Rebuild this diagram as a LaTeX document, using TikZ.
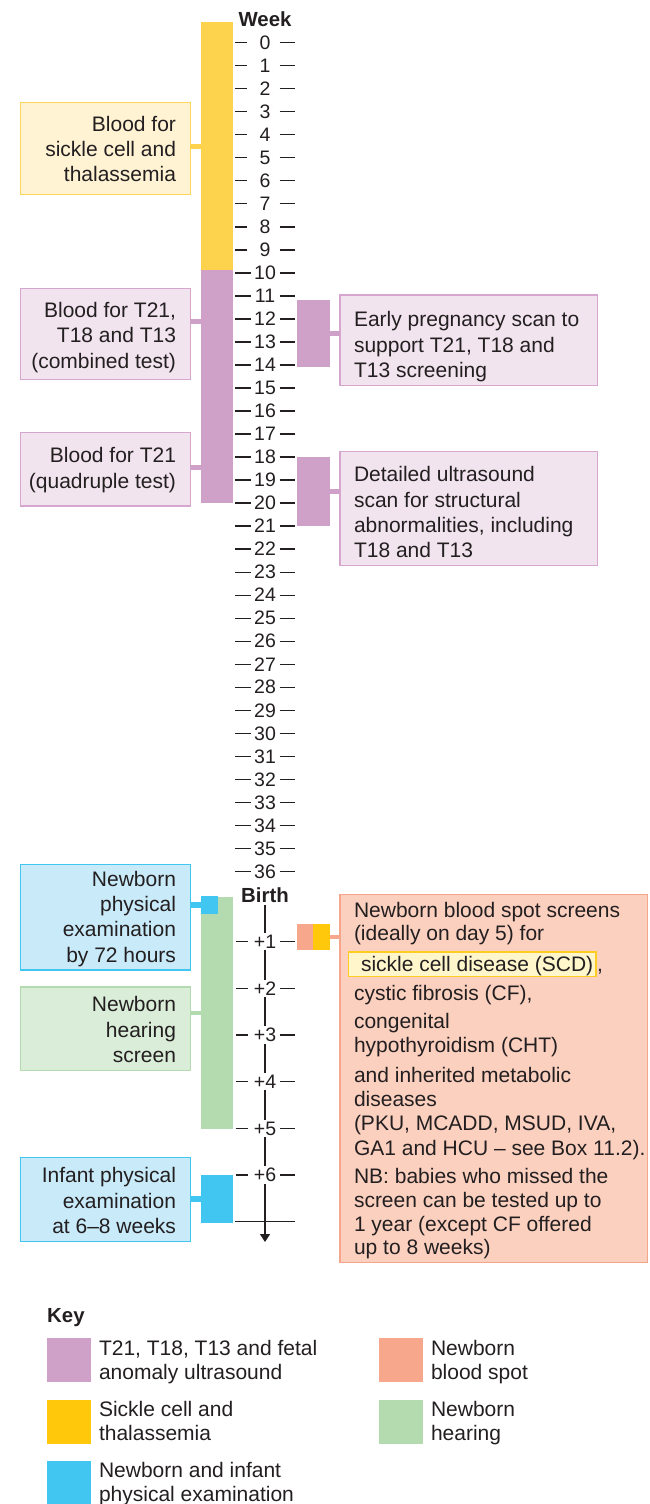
\documentclass[tikz,border=0pt]{standalone}
\usepackage{fontspec}
\setmainfont{Liberation Sans}
\usetikzlibrary{arrows.meta}
\definecolor{ink}{HTML}{231F20}
\definecolor{purplebar}{HTML}{CFA0C8}
\definecolor{pfill}{HTML}{F1E4EE}
\definecolor{pdraw}{HTML}{D6A6CE}
\definecolor{yellowbar}{HTML}{FDD24D}
\definecolor{yfill}{HTML}{FFF3D4}
\definecolor{ydraw}{HTML}{FDD65A}
\definecolor{ykey}{HTML}{FFC80A}
\definecolor{bblue}{HTML}{41C6F2}
\definecolor{bfill}{HTML}{C8EAF9}
\definecolor{greenbar}{HTML}{B4DAB0}
\definecolor{gfill}{HTML}{DAEDD8}
\definecolor{orangebar}{HTML}{F7A88C}
\definecolor{ofill}{HTML}{FBD0BF}
\definecolor{odraw}{HTML}{F5A68A}
\definecolor{scdfill}{HTML}{FFF6CC}
\definecolor{scddraw}{HTML}{FFCC22}
\begin{document}
\begin{tikzpicture}[x=1pt,y=-1pt,
  blk/.style={inner sep=0pt, outer sep=0pt, anchor=north west, draw=none},
  infobox/.style={inner sep=0pt, outer sep=0pt, anchor=north west, line width=1.4pt},
  txt/.style={inner sep=0pt, outer sep=0pt, text=ink, font=\fontsize{21}{25.3}\selectfont},
  keytxt/.style={inner sep=0pt, outer sep=0pt, text=ink, align=left, anchor=west, font=\fontsize{21}{24}\selectfont},
  conn/.style={line width=5pt},
  tickln/.style={line width=1.3pt, ink},
  num/.style={inner sep=1pt, text=ink, font=\fontsize{19.5}{20}\selectfont},
  hdr/.style={inner sep=1pt, text=ink, font=\fontsize{20.4}{22}\selectfont\bfseries}
]
\useasboundingbox (0,0) rectangle (650,1504);

% ---------- week scale ----------
\node[hdr] (week) at (265,19) {Week};
\foreach \k in {0,...,36}{
  \pgfmathsetmacro{\yy}{42.7+23.02*\k}
  \node[num] (w\k) at (265,\yy) {\k};
  \ifnum\k<10 \def\lx{247}\else\def\lx{251}\fi
  \draw[tickln] (235,\yy) -- (\lx,\yy);
  \draw[tickln] (279.5,\yy) -- (294.5,\yy);
}

% ---------- bars (pregnancy) ----------
\node[blk, fill=yellowbar, minimum width=32.3, minimum height=247.7] (ybarn) at (201,22.3) {};
\node[blk, fill=purplebar, minimum width=32.3, minimum height=233.3] (pbarn) at (201,270) {};
\node[blk, fill=purplebar, minimum width=33, minimum height=66.7] (pblk1) at (297,300) {};
\node[blk, fill=purplebar, minimum width=33, minimum height=69.3] (pblk2) at (297,456.7) {};

% ---------- boxes (pregnancy) ----------
\node[infobox, fill=yfill, draw=ydraw, minimum width=169.6, minimum height=92] (yb) at (20.7,102.3) {};
\node[txt, align=right, anchor=east] (ybt) at (176,148.9) {Blood for\\sickle cell and\\thalassemia};

\node[infobox, fill=pfill, draw=pdraw, minimum width=169.6, minimum height=91] (pb1) at (20.7,288.3) {};
\node[txt, align=right, anchor=east] (pb1t) at (176,337.4) {Blood for T21,\\T18 and T13\\(combined test)};

\node[infobox, fill=pfill, draw=pdraw, minimum width=169.6, minimum height=73.3] (pb2) at (20.7,432.7) {};
\node[txt, align=right, anchor=east] (pb2t) at (176,470.1) {Blood for T21\\(quadruple test)};

\node[infobox, fill=pfill, draw=pdraw, minimum width=257.3, minimum height=90.7] (pr1) at (340,295) {};
\node[txt, align=left, anchor=west] (pr1t) at (354,346.8) {Early pregnancy scan to\\support T21, T18 and\\T13 screening};

\node[infobox, fill=pfill, draw=pdraw, minimum width=257.3, minimum height=114] (pr2) at (340,451.7) {};
\node[txt, align=left, anchor=west] (pr2t) at (354,512.2) {Detailed ultrasound\\scan for structural\\abnormalities, including\\T18 and T13};

% connectors (pregnancy)
\coordinate (cy1) at (0,146);
\coordinate (cp1) at (0,321.7);
\coordinate (cp2) at (0,467.3);
\draw[conn, draw=yellowbar] (yb.east |- cy1) -- (ybarn.west |- cy1);
\draw[conn, draw=purplebar] (pb1.east |- cp1) -- (pbarn.west |- cp1);
\draw[conn, draw=purplebar] (pb2.east |- cp2) -- (pbarn.west |- cp2);
\draw[conn, draw=purplebar] (pblk1.east) -- (pr1.west |- pblk1.east);
\draw[conn, draw=purplebar] (pblk2.east) -- (pr2.west |- pblk2.east);

% ---------- after birth ----------
\node[hdr] (birth) at (265,895) {Birth};
\coordinate (axend) at (265,1242);
\draw[tickln, -{Triangle[length=8pt,width=10pt]}] (birth.south) ++(0,1) -- (axend);
\coordinate (hl) at (235,1221.7);
\coordinate (hr) at (295,1221.7);
\draw[tickln] (hl) -- (hr);
\foreach \k in {1,...,6}{
  \pgfmathsetmacro{\yy}{941.7+46.67*(\k-1)}
  \node[num, fill=white, inner xsep=1pt, inner ysep=2pt] (p\k) at (265,\yy) {+\k};
  \draw[tickln] (235.7,\yy) -- (248,\yy);
  \draw[tickln] (280,\yy) -- (295,\yy);
}

\node[blk, fill=greenbar, minimum width=32.3, minimum height=232] (gbarn) at (201,897.3) {};
\node[blk, fill=bblue, minimum width=16.7, minimum height=18] (bsq1) at (201,896) {};
\node[blk, fill=bblue, minimum width=32.3, minimum height=47.5] (bsq2) at (201,1175) {};
\node[blk, fill=orangebar, minimum width=16, minimum height=26] (osq) at (297.3,924) {};
\node[blk, fill=ykey, minimum width=16.7, minimum height=26] (ysq) at (313.3,924) {};

\node[infobox, fill=bfill, draw=bblue, minimum width=169.6, minimum height=105.3] (bb1) at (20.7,864.7) {};
\node[txt, align=right, anchor=east] (bb1t) at (176,918.7) {Newborn\\physical\\examination\\by 72 hours};

\node[infobox, fill=gfill, draw=greenbar, minimum width=169.6, minimum height=83.3] (gb) at (20.7,987) {};
\node[txt, align=right, anchor=east] (gbt) at (176,1029.6) {Newborn\\hearing\\screen};

\node[infobox, fill=bfill, draw=bblue, minimum width=169.6, minimum height=84] (bb2) at (20.7,1157.7) {};
\node[txt, align=right, anchor=east] (bb2t) at (176,1200.6) {Infant physical\\examination\\at 6–8 weeks};

\node[infobox, fill=ofill, draw=odraw, minimum width=307.3, minimum height=368] (ob) at (340,894.7) {};
\node[infobox, fill=scdfill, draw=scddraw, line width=1.2pt, minimum width=247.3, minimum height=24.7] (scd) at (348.7,952) {};
\foreach \t/\yy [count=\i] in {
  {Newborn blood spot screens}/917.3,
  {(ideally on day 5) for}/940.7,
  {cystic fibrosis (CF),}/1000,
  {congenital}/1028.3,
  {hypothyroidism (CHT)}/1052.7,
  {and inherited metabolic}/1082.7,
  {diseases}/1106.7,
  {(PKU, MCADD, MSUD, IVA,}/1130.7,
  {GA1 and HCU – see Box 11.2).}/1155,
  {NB: babies who missed the}/1183.3,
  {screen can be tested up to}/1207.3,
  {1 year (except CF offered}/1231.7,
  {up to 8 weeks)}/1254.3}{
  \node[txt, anchor=base west] (ol\i) at (354,\yy) {\t};
}
\node[txt, anchor=base west] (scdt) at (361,971) {sickle cell disease (SCD)};
\node[txt, anchor=base west] (scdc) at (597,971) {,};

% connectors (after birth)
\coordinate (cb1) at (0,905);
\coordinate (cg) at (0,1013.3);
\coordinate (cb2) at (0,1199.3);
\draw[conn, draw=bblue, line width=6pt] (bb1.east |- cb1) -- (bsq1.west |- cb1);
\draw[conn, draw=greenbar, line width=4pt] (gb.east |- cg) -- (gbarn.west |- cg);
\draw[conn, draw=bblue, line width=6pt] (bb2.east |- cb2) -- (bsq2.west |- cb2);
\draw[conn, draw=orangebar, line width=4pt] (ysq.east) -- (ob.west |- ysq.east);

% ---------- key ----------
\node[inner sep=0pt, text=ink, anchor=base west, font=\fontsize{20.4}{22}\selectfont\bfseries] (keyttl) at (47,1322.3) {Key};
\node[blk, fill=purplebar, minimum width=44, minimum height=43.4] (k1) at (47,1338.3) {};
\node[blk, fill=ykey, minimum width=44, minimum height=44] (k2) at (47,1400) {};
\node[blk, fill=bblue, minimum width=44, minimum height=45] (k3) at (47,1461) {};
\node[blk, fill=orangebar, minimum width=43.7, minimum height=43.4] (k4) at (379,1338.3) {};
\node[blk, fill=greenbar, minimum width=43.7, minimum height=44] (k5) at (379,1400) {};
\node[keytxt] (k1t) at (99,1361.7) {T21, T18, T13 and fetal\\anomaly ultrasound};
\node[keytxt] (k2t) at (99,1421.2) {Sickle cell and\\thalassemia};
\node[keytxt] (k3t) at (99,1484.4) {Newborn and infant\\physical examination};
\node[keytxt] (k4t) at (431,1361.7) {Newborn\\blood spot};
\node[keytxt] (k5t) at (431,1423.4) {Newborn\\hearing};
\end{tikzpicture}
\end{document}
